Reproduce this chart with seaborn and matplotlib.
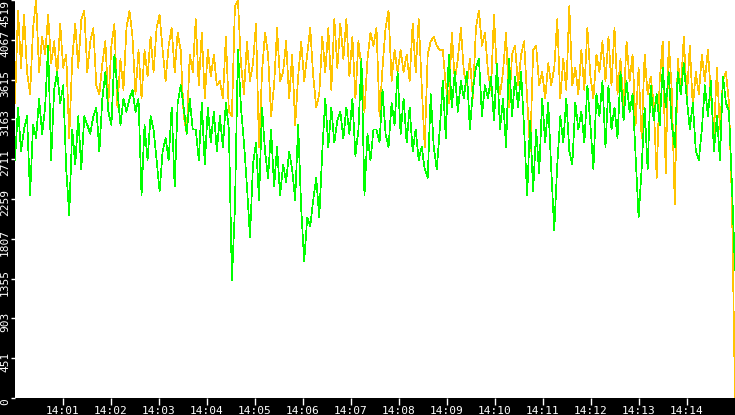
"""Two-channel live traffic chart, 14:00 - 14:15 (amber / green trace)."""
import matplotlib

matplotlib.use("Agg")
import matplotlib.dates as mdates
import matplotlib.pyplot as plt
import numpy as np
import pandas as pd
import seaborn as sns
from matplotlib.transforms import ScaledTranslation

# ---- data (one sample every ~3.8 s) ----
start_time = "2024-01-01 14:00:00"
end_time = "2024-01-01 14:15:00"
series_names = ["amber", "green"]

amber = [
    3350, 4400, 3750, 4350, 3700, 3450, 4200, 4519, 3700, 4100,
    3900, 4350, 3800, 4050, 3650, 4250, 3750, 3900, 2950, 3850,
    4250, 3750, 4300, 4400, 3700, 4050, 4200, 3550, 3450, 3800,
    4050, 3350, 4000, 4250, 3300, 3850, 3500, 4200, 4400, 4100,
    3450, 3950, 3400, 3950, 3650, 4100, 3700, 4200, 4350, 3950,
    3600, 4000, 4200, 3700, 4150, 3950, 3200, 3000, 3900, 3700,
    4300, 3550, 4150, 3400, 3950, 3650, 3900, 3550, 3600, 3400,
    4100, 3250, 3200, 4450, 4519, 3800, 3450, 4050, 3600, 3800,
    4250, 2850, 3700, 4150, 3900, 3200, 3550, 4200, 3600, 3700,
    4050, 3400, 3900, 3100, 3650, 4050, 3600, 3900, 4200, 3650,
    3300, 3450, 4100, 3700, 4200, 3500, 4300, 3750, 4250, 3850,
    4300, 3650, 4100, 3400, 4050, 3750, 3250, 3850, 4150, 4000,
    4200, 3200, 3750, 4200, 4400, 3600, 3950, 3700, 3950, 3700,
    3900, 3600, 4250, 3700, 4300, 3550, 2850, 3900, 4050, 4100,
    4000, 3950, 3950, 3550, 3350, 4150, 3600, 3850, 4200, 3700,
    3550, 3850, 3400, 4200, 4400, 4000, 4150, 3700, 3500, 4350,
    3650, 3450, 3700, 4150, 3300, 3900, 4000, 3550, 3900, 4050,
    3400, 2800, 3950, 4000, 3550, 3700, 3400, 3800, 3550, 3750,
    4300, 3400, 3850, 3500, 4450, 3550, 3750, 3450, 3950, 3500,
    4200, 3650, 3400, 3900, 3700, 4050, 3600, 4100, 3550, 4200,
    3450, 3850, 3300, 4050, 3600, 3900, 3100, 3750, 2950, 3900,
    3450, 3650, 3350, 2500, 3600, 4050, 2550, 4050, 3500, 2200,
    3850, 3500, 4100, 3400, 4000, 3300, 3700, 3450, 3900, 3600,
    3950, 3450, 3000, 3750, 3050, 3600, 3700, 3350, 2200, 0,
]

green = [
    2700, 3300, 2800, 3050, 3200, 2300, 3100, 2950, 3400, 3000,
    3300, 4000, 2700, 3500, 3700, 3350, 3550, 2600, 2080, 3050,
    2650, 3200, 2600, 3200, 3100, 3000, 3200, 3300, 2800, 3400,
    3700, 3250, 3100, 3900, 3500, 3100, 3400, 3250, 3400, 3500,
    3250, 3400, 2300, 3100, 2700, 3200, 3050, 2700, 2350, 2800,
    2950, 2700, 3300, 2400, 3350, 3550, 3300, 3000, 3400, 3050,
    3050, 2700, 3350, 2650, 3300, 2900, 3250, 2800, 3200, 2850,
    3350, 3050, 1340, 2150, 3950, 3300, 2900, 2400, 1830, 2650,
    2900, 2250, 3300, 2800, 2500, 3050, 2400, 2850, 2300, 2650,
    2450, 2800, 2600, 2250, 3100, 2150, 1550, 2050, 1950, 2250,
    2500, 2050, 2800, 3400, 2850, 3300, 2900, 3150, 3250, 2950,
    3300, 3000, 3400, 2750, 3050, 3850, 2300, 3000, 2700, 3050,
    3050, 2900, 3500, 3000, 2850, 3350, 3100, 3700, 3000, 3400,
    2900, 3300, 2800, 3050, 2700, 2850, 2600, 2500, 3450, 2850,
    2600, 3050, 3600, 2950, 3900, 3300, 3700, 3250, 3600, 3400,
    3700, 3050, 3500, 3750, 3850, 3200, 3550, 3400, 3650, 3150,
    3800, 3050, 3400, 2850, 3850, 3200, 3650, 3300, 3700, 3050,
    2300, 3150, 2350, 3050, 2550, 3400, 2900, 3350, 2600, 1900,
    2650, 3200, 2900, 3400, 2800, 2650, 3350, 3050, 3250, 2900,
    3550, 3100, 2600, 3450, 3200, 3600, 2850, 3550, 3050, 3300,
    2950, 3700, 3150, 3600, 3250, 3450, 2750, 2050, 2600, 3300,
    2600, 3550, 3150, 3450, 3100, 3750, 3300, 3700, 3100, 2850,
    3700, 3450, 3800, 3400, 3050, 3350, 2800, 2700, 3050, 3550,
    3200, 3600, 2800, 3200, 2700, 3650, 3350, 3250, 2400, 1450,
]

y_max = 4519
y_ticks = [y_max * k / 10 for k in range(11)]
y_labels = [str(int(v)) for v in y_ticks]

# ---- long table for seaborn ----
times = pd.date_range(start_time, end_time, periods=len(amber))
df = pd.concat([
    pd.DataFrame({"time": times, "value": amber, "series": "amber"}),
    pd.DataFrame({"time": times, "value": green, "series": "green"}),
])

W, H = 735, 415
fig = plt.figure(figsize=(W / 100, H / 100), dpi=100, facecolor="black")
ax = fig.add_axes([15 / W, 17 / H, 720 / W, 398 / H])
ax.set_facecolor("white")

sns.lineplot(
    data=df, x="time", y="value", hue="series", hue_order=series_names,
    palette={"amber": "#FFC400", "green": "#00FF00"},
    estimator=None, linewidth=0.5, antialiased=False, legend=False, ax=ax,
)

ax.set_xlim(pd.Timestamp(start_time), pd.Timestamp(end_time))
ax.set_ylim(0, y_max)
for s in ax.spines.values():
    s.set_visible(False)
ax.set_xlabel("")
ax.set_ylabel("")

mono = "DejaVu Sans Mono"
ax.xaxis.set_major_locator(mdates.MinuteLocator(byminute=range(1, 15)))
ax.xaxis.set_major_formatter(mdates.DateFormatter("%H:%M"))
ax.tick_params(axis="x", colors="white", length=5, width=1, pad=0.5, labelsize=8)
for lbl in ax.get_xticklabels():
    lbl.set_family(mono)

ax.set_yticks(y_ticks)
ax.set_yticklabels(y_labels, rotation=90, va="center", family=mono, fontsize=8)
ax.tick_params(axis="y", colors="white", length=3, width=1, pad=0.5)
shift = ScaledTranslation(0, -2.5 / 72, fig.dpi_scale_trans)
ylbls = ax.get_yticklabels()
for lbl in ylbls[:-1]:
    lbl.set_transform(lbl.get_transform() + shift)
ylbls[-1].set_va("top")

fig.savefig("out.png", dpi=100, facecolor="black")
plt.close(fig)
